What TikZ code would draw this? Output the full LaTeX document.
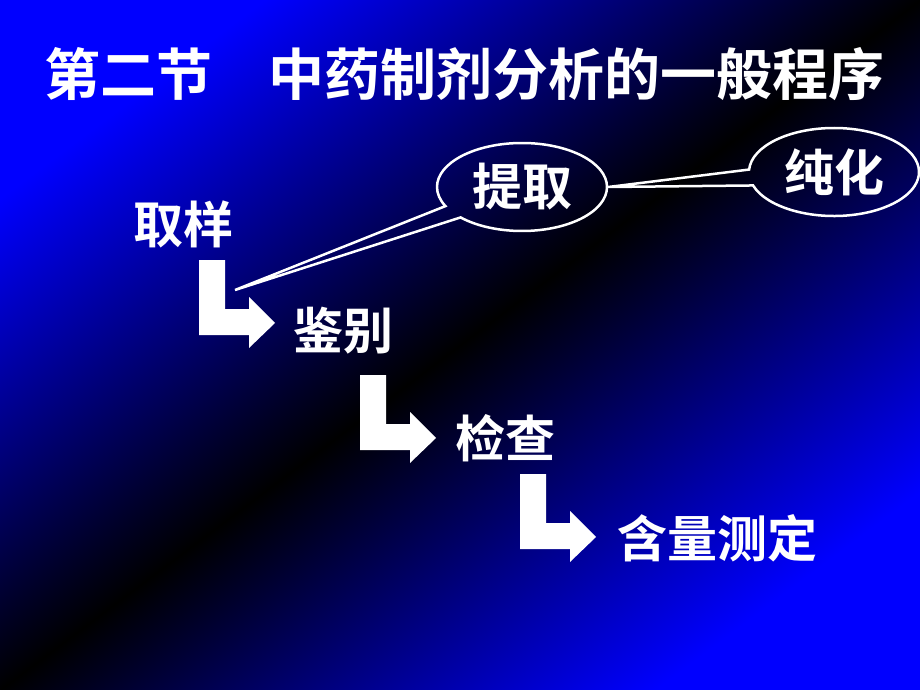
\documentclass[tikz,border=0pt]{standalone}
\usepackage{fontspec}
\newfontfamily\cjk{Noto Sans CJK SC Bold}
\usetikzlibrary{shapes.callouts}
\definecolor{bgblue}{RGB}{0,0,255}
\definecolor{bgdark}{RGB}{0,0,0}

\begin{document}
\begin{tikzpicture}[x=1pt,y=-1pt,
    stage/.style={text=white,inner sep=0pt,font=\cjk\fontsize{50}{50}\selectfont},
    bubble/.style={ellipse callout,draw=white,line width=2.5pt,inner sep=0pt,
        minimum width=170pt,minimum height=88pt,text=white,
        font=\cjk\fontsize{50}{50}\selectfont}]
    % background
    \shade[top color=bgblue,bottom color=bgblue,middle color=bgdark,shading angle=36.87] (0,0) rectangle (920,690);
    \useasboundingbox (0,0) rectangle (920,690);

    \node[stage,font=\cjk\fontsize{56}{56}\selectfont] (title) at (464,74) {第二节\hspace{1em}中药制剂分析的一般程序};

    \node[stage] (quyang) at (183,224) {取样};
    \node[stage] (jianbie) at (343,331) {鉴别};
    \node[stage] (jiancha) at (505,438) {检查};
    \node[stage] (hanliang) at (717,538) {含量测定};

    % bent arrows
    \foreach \x/\y in {199/260,360/375,520/474} {
        \fill[white] (\x,\y) -- ++(26,0) -- ++(0,49) -- ++(24,0) -- ++(0,-12)
            -- ++(26,26) -- ++(-26,25) -- ++(0,-13) -- (\x,\y+75) -- cycle;
    }

    \coordinate (tip) at (235,290);
    \node[bubble,callout absolute pointer={(tip)},callout pointer arc=18] (tiqu) at (522,187) {提取};
    \node[bubble,callout absolute pointer={(tiqu.east)},callout pointer arc=21] (chunhua) at (834,172) {纯化};
\end{tikzpicture}
\end{document}
